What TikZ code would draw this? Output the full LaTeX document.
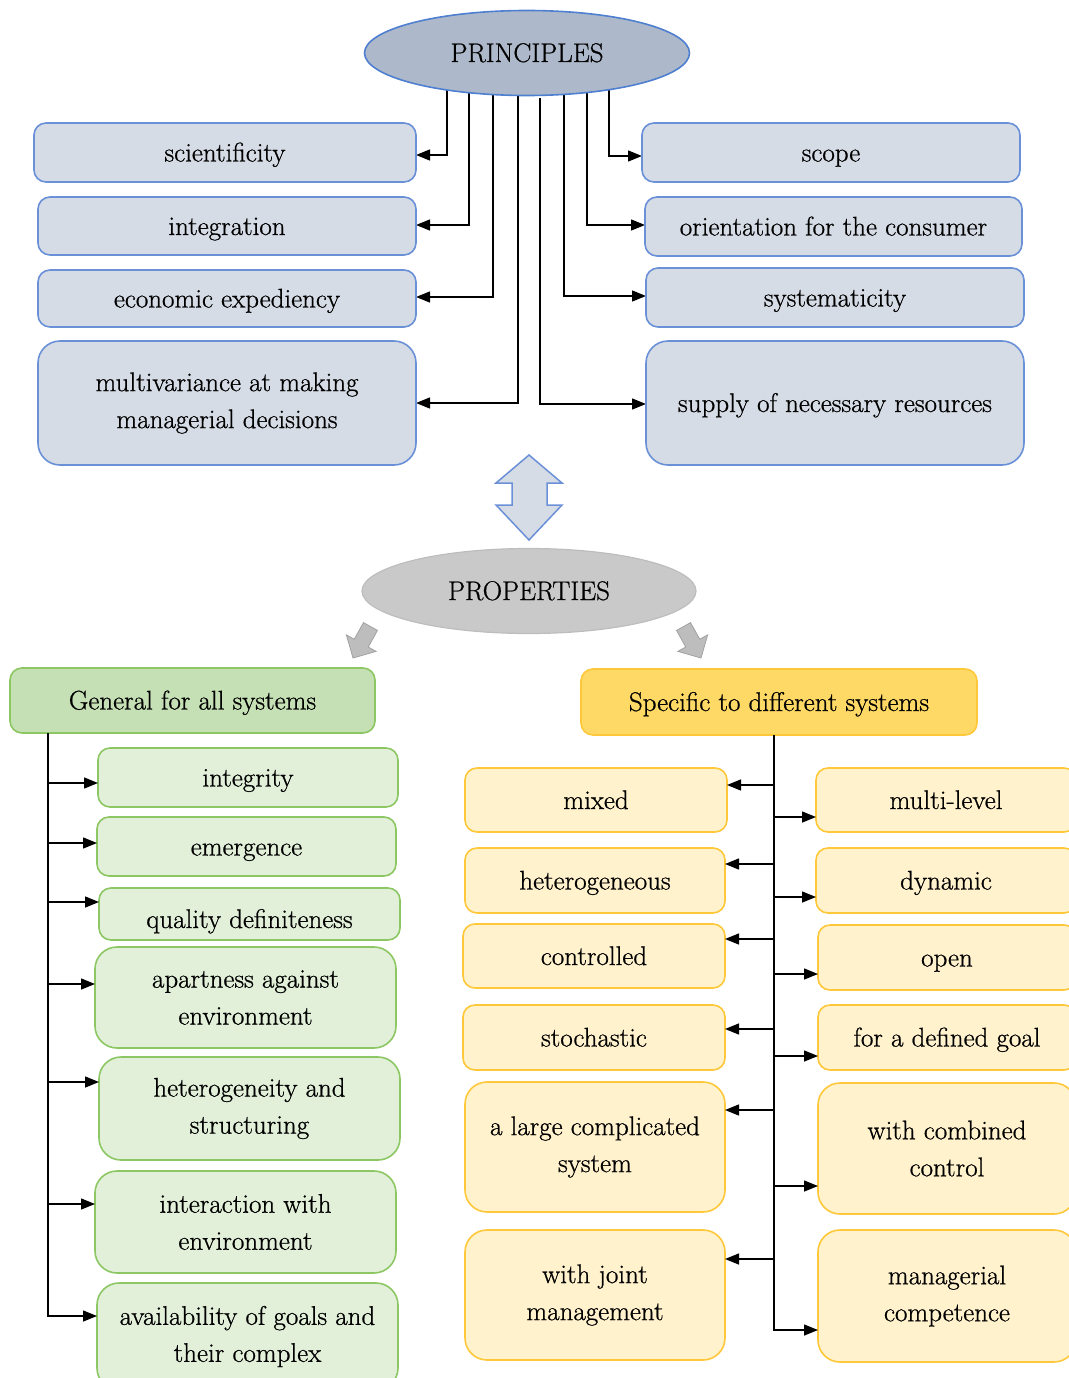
\documentclass[tikz,border=0pt]{standalone}
\usepackage{fontspec}
\setmainfont{Latin Modern Roman}[FakeBold=0.7]
\usetikzlibrary{arrows.meta,calc,backgrounds,shapes.geometric}
\definecolor{pfill}{HTML}{D6DCE5}
\definecolor{pline}{HTML}{6A90D8}
\definecolor{pefill}{HTML}{ADB9CA}
\definecolor{peline}{HTML}{4F7FD0}
\definecolor{grfill}{HTML}{C9C9C9}
\definecolor{grline}{HTML}{BDBDBD}
\definecolor{gfill}{HTML}{E2F0D9}
\definecolor{ghfill}{HTML}{C5E0B4}
\definecolor{gline}{HTML}{8CC763}
\definecolor{yfill}{HTML}{FFF2CC}
\definecolor{yhfill}{HTML}{FFD966}
\definecolor{yline}{HTML}{FFC83A}
\newcommand{\bx}[7]{%
  \pgfmathsetmacro{\bxcx}{(#2+#4)/2}\pgfmathsetmacro{\bxcy}{(#3+#5)/2}%
  \pgfmathsetmacro{\bxw}{#4-#2}\pgfmathsetmacro{\bxh}{#5-#3}%
  \node[#6, minimum width=\bxw pt, minimum height=\bxh pt] (#1) at (\bxcx,\bxcy) {#7};}
\begin{document}
\begin{tikzpicture}[x=1pt,y=-1pt,font=\fontsize{27}{37}\selectfont,
  base/.style={draw, line width=1.6pt, inner sep=0pt, outer sep=0pt, align=center, rounded corners=12pt},
  one/.style={text height=18pt, text depth=0pt},
  tall/.style={rounded corners=22pt},
  pbox/.style={base, fill=pfill, draw=pline},
  gbox/.style={base, fill=gfill, draw=gline},
  ybox/.style={base, fill=yfill, draw=yline},
  arr/.style={-{Triangle[length=14pt,width=11pt]}, line width=1.4pt, black}]
\useasboundingbox (0,0) rectangle (1068,1378);

% PRINCIPLES
\node[ellipse, draw=peline, line width=1.6pt, fill=pefill, minimum width=325pt, minimum height=85pt, inner sep=0pt, one] (P) at (527,53) {PRINCIPLES};
\bx{sci}{34}{123}{416}{182}{pbox,one}{scientificity}
\bx{integ}{38}{197}{416}{255}{pbox,one}{integration}
\bx{econ}{38}{270}{416}{327}{pbox,one}{economic expediency}
\bx{multi}{38}{341}{416}{465}{pbox,tall}{multivariance at making\\managerial decisions}
\bx{scope}{642}{123}{1020}{182}{pbox,one}{scope}
\bx{orient}{645}{197}{1022}{256}{pbox,one}{orientation for the consumer}
\bx{sys}{646}{268}{1024}{327}{pbox,one}{systematicity}
\bx{supply}{646}{341}{1024}{465}{pbox,tall,one}{supply of necessary resources}

\begin{pgfonlayer}{background}
\draw[arr] ($(P.center)+(-80,0)$) |- ($(sci.east)+(0,2.5)$);
\draw[arr] ($(P.center)+(-58,0)$) |- ($(integ.east)+(0,-1)$);
\draw[arr] ($(P.center)+(-34,0)$) |- ($(econ.east)+(0,-1.5)$);
\draw[arr] ($(P.center)+(-9,0)$) |- (multi.east);
\draw[arr] ($(P.center)+(82,0)$) |- ($(scope.west)+(0,3.5)$);
\draw[arr] ($(P.center)+(60,0)$) |- ($(orient.west)+(0,-1.5)$);
\draw[arr] ($(P.center)+(37,0)$) |- ($(sys.west)+(0,-1.5)$);
\draw[arr] ($(P.center)+(13,45)$) |- ($(supply.west)+(0,1)$);
\end{pgfonlayer}

% double arrow
\draw[draw=pline, fill=pfill, line width=1.5pt, line join=miter]
  (529,455) -- (562,483) -- (547,483) -- (547,505) -- (562,505) -- (529,540)
  -- (496,505) -- (512,505) -- (512,483) -- (496,483) -- cycle;

% PROPERTIES
\node[ellipse, draw=grline, line width=1.2pt, fill=grfill, minimum width=334pt, minimum height=85pt, inner sep=0pt, one] (PR) at (529,591) {PROPERTIES};

% small grey arrows
\begin{scope}[shift={(353,658)}, rotate=241]
\draw[draw=grline!85!black, fill=grline, line width=0.8pt]
  (0,0) -- (-17,17) -- (-17,8) -- (-36,8) -- (-36,-8) -- (-17,-8) -- (-17,-17) -- cycle;
\end{scope}
\begin{scope}[shift={(701,658)}, rotate=299]
\draw[draw=grline!85!black, fill=grline, line width=0.8pt]
  (0,0) -- (-17,17) -- (-17,8) -- (-36,8) -- (-36,-8) -- (-17,-8) -- (-17,-17) -- cycle;
\end{scope}

% headers
\bx{G}{10}{668}{375}{733}{base, fill=ghfill, draw=gline, one}{General for all systems}
\bx{Y}{581}{669}{977}{735}{base, fill=yhfill, draw=yline, one}{Specific to different systems}

% green sub-boxes
\bx{gi}{98}{748}{398}{807}{gbox,one}{integrity}
\bx{ge}{97}{817}{396}{876}{gbox,one}{emergence}
\bx{gq}{99}{888}{400}{940}{gbox,one}{\raisebox{-5pt}{quality definiteness}}
\bx{ga}{95}{947}{396}{1048}{gbox,tall}{apartness against\\environment}
\bx{gh}{99}{1057}{400}{1160}{gbox,tall}{heterogeneity and\\structuring}
\bx{gn}{95}{1171}{396}{1273}{gbox,tall}{interaction with\\environment}
\bx{gv}{97}{1283}{398}{1390}{gbox,tall}{availability of goals and\\their complex}

% yellow sub-boxes
\bx{ym}{465}{768}{727}{832}{ybox,one}{mixed}
\bx{yh}{465}{848}{725}{913}{ybox,one}{heterogeneous}
\bx{yc}{463}{924}{725}{988}{ybox,one}{controlled}
\bx{ys}{463}{1005}{725}{1070}{ybox,one}{stochastic}
\bx{yl}{465}{1082}{725}{1212}{ybox,tall}{a large complicated\\system}
\bx{yj}{465}{1230}{725}{1360}{ybox,tall}{with joint\\management}
\bx{yml}{816}{768}{1076}{832}{ybox,one}{multi-level}
\bx{yd}{816}{848}{1076}{913}{ybox,one}{dynamic}
\bx{yo}{818}{925}{1076}{990}{ybox,one}{open}
\bx{yg}{818}{1005}{1076}{1070}{ybox,one}{for a defined goal}
\bx{yb}{818}{1083}{1076}{1214}{ybox,tall}{with combined\\control}
\bx{yp}{818}{1230}{1076}{1362}{ybox,tall}{managerial\\competence}

% green connectors
\coordinate (gt) at ($(G.south west)+(38,0)$);
\coordinate (g1) at ($(gi.west)+(0,5.5)$);
\coordinate (g2) at ($(ge.west)+(0,-3.5)$);
\coordinate (g3) at ($(gq.west)+(0,-12)$);
\coordinate (g4) at ($(ga.west)+(0,-13.5)$);
\coordinate (g5) at ($(gh.west)+(0,-26.5)$);
\coordinate (g6) at ($(gn.west)+(0,-18)$);
\coordinate (g7) at ($(gv.west)+(0,-20.5)$);
\draw[arr] (gt) |- (g7);
\foreach \g in {g1,g2,g3,g4,g5,g6}{\draw[arr] (\g -| gt) -- (\g);}

% yellow connectors
\coordinate (yt) at ($(Y.south)+(-5,0)$);
\coordinate (r6) at ($(yp.west)+(0,34)$);
\draw[arr] (yt) |- (r6);
\coordinate (l1) at ($(ym.east)+(0,-15)$);
\coordinate (l2) at ($(yh.east)+(0,-16.5)$);
\coordinate (l3) at ($(yc.east)+(0,-17)$);
\coordinate (l4) at ($(ys.east)+(0,-8.5)$);
\coordinate (l5) at ($(yl.east)+(0,-37)$);
\coordinate (l6) at ($(yj.east)+(0,-36)$);
\coordinate (r1) at ($(yml.west)+(0,17)$);
\coordinate (r2) at ($(yd.west)+(0,16.5)$);
\coordinate (r3) at ($(yo.west)+(0,16.5)$);
\coordinate (r4) at ($(yg.west)+(0,18.5)$);
\coordinate (r5) at ($(yb.west)+(0,37.5)$);
\foreach \l in {l1,l2,l3,l4,l5,l6}{\draw[arr] (\l -| yt) -- (\l);}
\foreach \r in {r1,r2,r3,r4,r5}{\draw[arr] (\r -| yt) -- (\r);}
\end{tikzpicture}
\end{document}
